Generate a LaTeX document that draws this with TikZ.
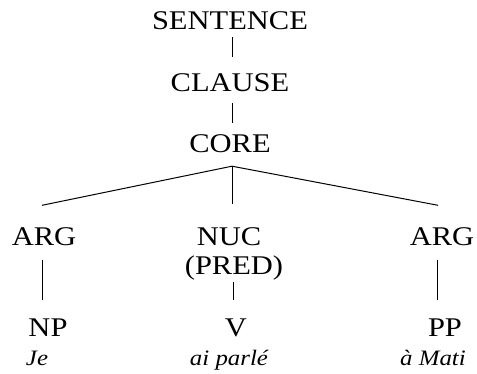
\documentclass[tikz,border=0pt]{standalone}
\usepackage{fontspec}
\setmainfont{Liberation Serif}[FakeStretch=1.13]
\usetikzlibrary{calc}
\tikzset{cat/.style={inner sep=0pt,anchor=base,text height=16.5pt,text depth=0pt,
 font=\fontsize{27}{32}\selectfont},
 gloss/.style={inner sep=0pt,anchor=base,font=\fontsize{22}{26}\selectfont\itshape},
 branch/.style={line width=1pt}}
\begin{document}
\begin{tikzpicture}[x=1pt,y=-1pt]
\useasboundingbox (0,0) rectangle (477,374);
% categories
\node[cat] (sent) at (230,30) {SENTENCE};
\node[cat] (clause) at (230,92) {CLAUSE};
\node[cat] (core) at (230,153) {CORE};
\node[cat] (argL) at (44,246) {ARG};
\node[cat] (nuc) at (229,246) {NUC};
\node[cat] (pred) at (234,275) {(PRED)};
\node[cat] (argR) at (442,246) {ARG};
\node[cat] (np) at (48,337) {NP};
\node[cat] (v) at (236,337) {V};
\node[cat] (pp) at (445,337) {PP};
% words
\node[gloss] (je) at (37,365) {Je};
\node[gloss] (parle) at (229,365) {ai parlé};
\node[gloss] (mati) at (433,365) {à Mati};
% branches
\draw[branch,shorten <=7pt,shorten >=18pt] ([xshift=2pt]sent.south) -- ([xshift=2pt]clause.north);
\draw[branch,shorten <=11pt,shorten >=13pt] ([xshift=2pt]clause.south) -- ([xshift=2pt]core.north);
\coordinate (fork) at ([xshift=2pt,yshift=-13pt]core.south);
\draw[branch] ([xshift=-2pt,yshift=24pt]argL.north) -- (fork) -- ([xshift=-4pt,yshift=24pt]argR.north);
\draw[branch] (fork) -- ([xshift=3pt,yshift=25pt]nuc.north);
\draw[branch,shorten <=14pt,shorten >=20pt] ([xshift=-2pt]argL.south) -- ([xshift=-2pt]argL.south |- np.north);
\draw[branch,shorten <=7pt,shorten >=20pt] ([xshift=-1pt]pred.south) -- ([xshift=-1pt]pred.south |- v.north);
\draw[branch,shorten <=14pt,shorten >=20pt] ([xshift=-5pt]argR.south) -- ([xshift=-5pt]argR.south |- pp.north);
\end{tikzpicture}
\end{document}
